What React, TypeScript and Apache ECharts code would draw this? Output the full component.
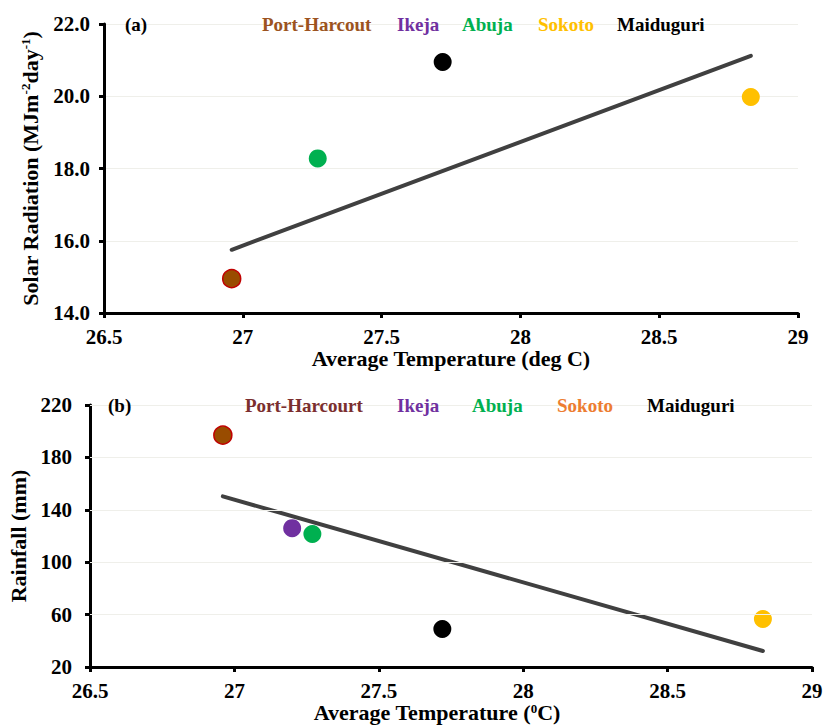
import React, { useEffect, useRef } from "react";
import * as echarts from "echarts";

// ---- Data ----
const cities = ["Port-Harcourt", "Ikeja", "Abuja", "Sokoto", "Maiduguri"];
const cityColors = ["#994C00", "#7030A0", "#00B050", "#FFC000", "#000000"];

// Panel (a): average temperature vs solar radiation (Ikeja not shown)
const tempA: (number | null)[] = [26.96, null, 27.27, 28.83, 27.72];
const radiation: (number | null)[] = [14.95, null, 18.28, 19.98, 20.95];
const trendTempA = [26.96, 28.83];
const trendRadiation = [15.75, 21.12];

// Panel (b): average temperature vs rainfall
const tempB = [26.96, 27.2, 27.27, 28.83, 27.72];
const rainfall = [197, 126, 121.5, 56.6, 49];
const trendTempB = [26.96, 28.83];
const trendRainfall = [150.3, 32.2];

// Legend labels
const legendA = ["Port-Harcout", "Ikeja", "Abuja", "Sokoto", "Maiduguri"];
const legendAColors = ["#9C5320", "#7030A0", "#00B050", "#FFC000", "#000000"];
const legendB = ["Port-Harcourt", "Ikeja", "Abuja", "Sokoto", "Maiduguri"];
const legendBColors = ["#7B2E2E", "#7030A0", "#00B050", "#ED7D31", "#000000"];

const xTicks = [26.5, 27, 27.5, 28, 28.5, 29];
const yTicksA = [14, 16, 18, 20, 22];
const yTicksB = [20, 60, 100, 140, 180, 220];

const FONT = "Liberation Serif";

export default function App() {
  const ref = useRef<HTMLDivElement>(null);

  useEffect(() => {
    if (!ref.current) return;
    const chart = echarts.init(ref.current, null, { renderer: "svg" });

    const labelStyle = {
      fontFamily: FONT,
      fontWeight: "bold" as const,
      fontSize: 21,
      color: "#000",
    };
    const axisLine = { show: true, lineStyle: { color: "#000", width: 3 } };
    const axisTick = {
      show: true,
      inside: false,
      length: 5,
      lineStyle: { color: "#000", width: 3 },
    };
    const richTitle = {
      b: { fontFamily: FONT, fontWeight: "bold", fontSize: 22, color: "#000" },
      s: {
        fontFamily: FONT,
        fontWeight: "bold",
        fontSize: 13,
        color: "#000",
        verticalAlign: "top",
      },
    };

    const scatterSeries: any[] = [];
    cities.forEach((c, i) => {
      const isPH = i === 0;
      if (tempA[i] != null && radiation[i] != null) {
        scatterSeries.push({
          type: "scatter",
          name: c + " (a)",
          xAxisIndex: 0,
          yAxisIndex: 0,
          symbolSize: 18,
          itemStyle: {
            color: cityColors[i],
            borderColor: isPH ? "#C00000" : cityColors[i],
            borderWidth: isPH ? 1.5 : 0,
            opacity: 1,
          },
          data: [[tempA[i], radiation[i]]],
        });
      }
      scatterSeries.push({
        type: "scatter",
        name: c + " (b)",
        xAxisIndex: 1,
        yAxisIndex: 1,
        symbolSize: 18,
        itemStyle: {
          color: cityColors[i],
          borderColor: isPH ? "#C00000" : cityColors[i],
          borderWidth: isPH ? 1.5 : 0,
          opacity: 1,
        },
        data: [[tempB[i], rainfall[i]]],
      });
    });

    const legendText = (
      labels: string[],
      colors: string[],
      xs: number[],
      y: number
    ) =>
      labels.map((t, i) => ({
        type: "text",
        left: xs[i],
        top: y - 11,
        z: 100,
        style: {
          text: t,
          fill: colors[i],
          fontFamily: FONT,
          fontWeight: "bold",
          fontSize: 19,
        },
      }));

    chart.setOption({
      animation: false,
      backgroundColor: "#fff",
      grid: [
        { left: 104, right: 25, top: 24, height: 289, outerBoundsMode: "none", containLabel: false },
        { left: 90, right: 11, top: 405, height: 262, outerBoundsMode: "none", containLabel: false },
      ],
      xAxis: [
        {
          gridIndex: 0,
          type: "value",
          min: xTicks[0],
          max: xTicks[xTicks.length - 1],
          interval: 0.5,
          axisLine,
          axisTick,
          splitLine: { show: false },
          axisLabel: { ...labelStyle, margin: 13 },
          name: "Average Temperature (deg C)",
          nameLocation: "middle",
          nameGap: 34,
          nameTextStyle: {
            fontFamily: FONT,
            fontWeight: "bold",
            fontSize: 22,
            color: "#000",
          },
        },
        {
          gridIndex: 1,
          type: "value",
          min: xTicks[0],
          max: xTicks[xTicks.length - 1],
          interval: 0.5,
          axisLine,
          axisTick,
          splitLine: { show: false },
          axisLabel: { ...labelStyle, margin: 13 },
          name: "{b|Average Temperature (}{s|0}{b|C)}",
          nameLocation: "middle",
          nameGap: 33,
          nameTextStyle: { rich: richTitle, padding: [0, 28, 0, 0] },
        },
      ],
      yAxis: [
        {
          gridIndex: 0,
          type: "value",
          min: yTicksA[0],
          max: yTicksA[yTicksA.length - 1],
          interval: 2,
          axisLine,
          axisTick,
          splitLine: { show: true, lineStyle: { color: "#EFEFEA", width: 1 } },
          axisLabel: {
            ...labelStyle,
            margin: 14,
            formatter: (v: number) => v.toFixed(1),
          },
          name: "{b|Solar Radiation (MJm}{s|-2}{b|day}{s|-1}{b|)}",
          nameLocation: "middle",
          nameGap: 63,
          nameTextStyle: { rich: richTitle },
        },
        {
          gridIndex: 1,
          type: "value",
          min: yTicksB[0],
          max: yTicksB[yTicksB.length - 1],
          axisLine,
          axisTick: { ...axisTick, customValues: yTicksB },
          splitLine: { show: false },
          axisLabel: { ...labelStyle, margin: 18, customValues: yTicksB },
          name: "Rainfall (mm)",
          nameLocation: "middle",
          nameGap: 56,
          nameTextStyle: {
            fontFamily: FONT,
            fontWeight: "bold",
            fontSize: 22,
            color: "#000",
          },
        },
      ],
      graphic: [
        {
          type: "text",
          left: 125,
          top: 26 - 11,
          z: 100,
          style: { text: "(a)", fill: "#000", fontFamily: FONT, fontWeight: "bold", fontSize: 19 },
        },
        ...legendText(legendA, legendAColors, [262, 397, 462, 538, 617], 26),
        {
          type: "text",
          left: 108,
          top: 407 - 11,
          z: 100,
          style: { text: "(b)", fill: "#000", fontFamily: FONT, fontWeight: "bold", fontSize: 19 },
        },
        ...legendText(legendB, legendBColors, [245, 397, 472, 557, 647], 407),
      ],
      series: [
        {
          type: "line",
          name: "grid-b",
          xAxisIndex: 1,
          yAxisIndex: 1,
          data: [],
          silent: true,
          z: 0,
          markLine: {
            silent: true,
            symbol: "none",
            label: { show: false },
            lineStyle: { color: "#EFEFEA", width: 1, type: "solid" },
            data: yTicksB.slice(1).map((v) => ({ yAxis: v })),
          },
        },
        ...scatterSeries,
        {
          type: "line",
          name: "Trend (a)",
          xAxisIndex: 0,
          yAxisIndex: 0,
          showSymbol: false,
          symbol: "none",
          lineStyle: { color: "#404040", width: 4, cap: "round" },
          data: trendTempA.map((x, i) => [x, trendRadiation[i]]),
        },
        {
          type: "line",
          name: "Trend (b)",
          xAxisIndex: 1,
          yAxisIndex: 1,
          showSymbol: false,
          symbol: "none",
          lineStyle: { color: "#404040", width: 4, cap: "round" },
          data: trendTempB.map((x, i) => [x, trendRainfall[i]]),
        },
      ],
    });

    return () => chart.dispose();
  }, []);

  return (
    <div
      ref={ref}
      style={{
        position: "fixed",
        left: 0,
        top: 0,
        width: 823,
        height: 725,
        background: "#fff",
      }}
    />
  );
}
